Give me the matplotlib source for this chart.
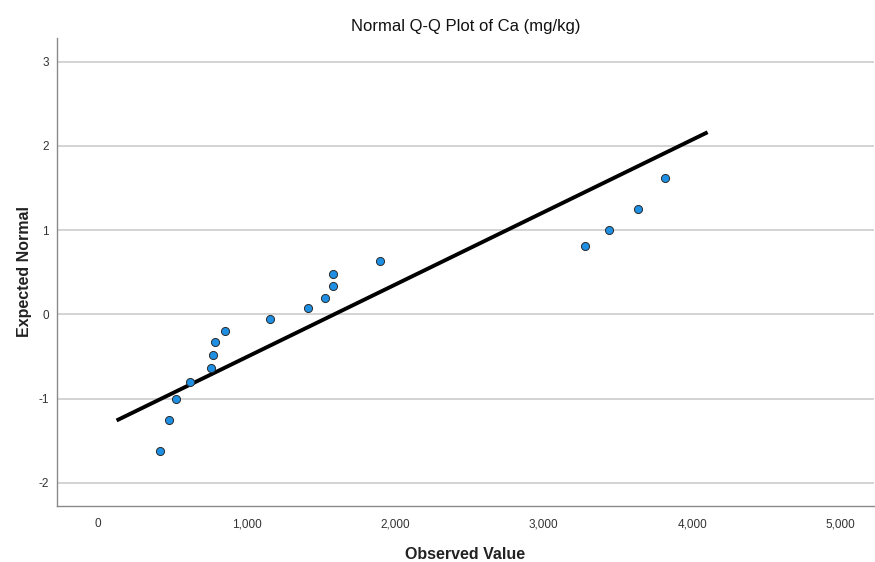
import matplotlib
matplotlib.use("Agg")
import matplotlib.pyplot as plt
from matplotlib.ticker import FuncFormatter

plt.rcParams['font.family'] = ['Liberation Sans', 'DejaVu Sans']
plt.rcParams['axes.unicode_minus'] = False

# Observed Ca values (mg/kg) and their expected normal scores
observed = [415, 479, 524, 623, 759, 773, 788, 853, 1158, 1413,
            1532, 1581, 1584, 1900, 3280, 3439, 3638, 3817]
expected = [-1.62, -1.25, -1.00, -0.80, -0.64, -0.48, -0.33, -0.20, -0.06, 0.07,
            0.20, 0.34, 0.48, 0.63, 0.81, 1.00, 1.25, 1.62]

# Reference line: z = (x - mean) / sd, drawn over this x span
line_mean = 1590
line_sd = 1163
line_x = [126, 4104]

x_ticks = [0, 1000, 2000, 3000, 4000, 5000]
y_ticks = [-2, -1, 0, 1, 2, 3]

fig = plt.figure(figsize=(8.75, 5.62), dpi=100)
ax = fig.add_axes([0.0655, 0.1002, 0.933, 0.8322])

ax.set_xlim(-273, 5222)
ax.set_ylim(-2.27, 3.28)

for yt in y_ticks:
    ax.axhline(yt, color='#c8c8c8', lw=1.1, zorder=0)

line_y = [(x - line_mean) / line_sd for x in line_x]
ax.plot(line_x, line_y, color='black', lw=2.8, solid_capstyle='butt', zorder=2)

ax.scatter(observed, expected, s=34, color='#1f8fe3', edgecolor='#2b2b2b',
           linewidth=0.7, zorder=3)

ax.set_xticks(x_ticks)
ax.set_yticks(y_ticks)
ax.xaxis.set_major_formatter(FuncFormatter(lambda v, p: f"{int(v):,}"))
ax.tick_params(axis='both', length=0, labelsize=8.5, colors='#333333')
ax.tick_params(axis='x', pad=9)
ax.tick_params(axis='y', pad=6)

for side in ['top', 'right']:
    ax.spines[side].set_visible(False)
for side in ['left', 'bottom']:
    ax.spines[side].set_color('#8a8a8a')
    ax.spines[side].set_linewidth(1.0)

ax.set_title("Normal Q-Q Plot of Ca (mg/kg)", fontsize=12, color='#111111', pad=5)
ax.set_xlabel("Observed Value", fontsize=11.5, fontweight='bold', color='#222222', labelpad=12)
ax.set_ylabel("Expected Normal", fontsize=11.5, fontweight='bold', color='#222222', labelpad=5)

fig.savefig("out.png", dpi=100)
